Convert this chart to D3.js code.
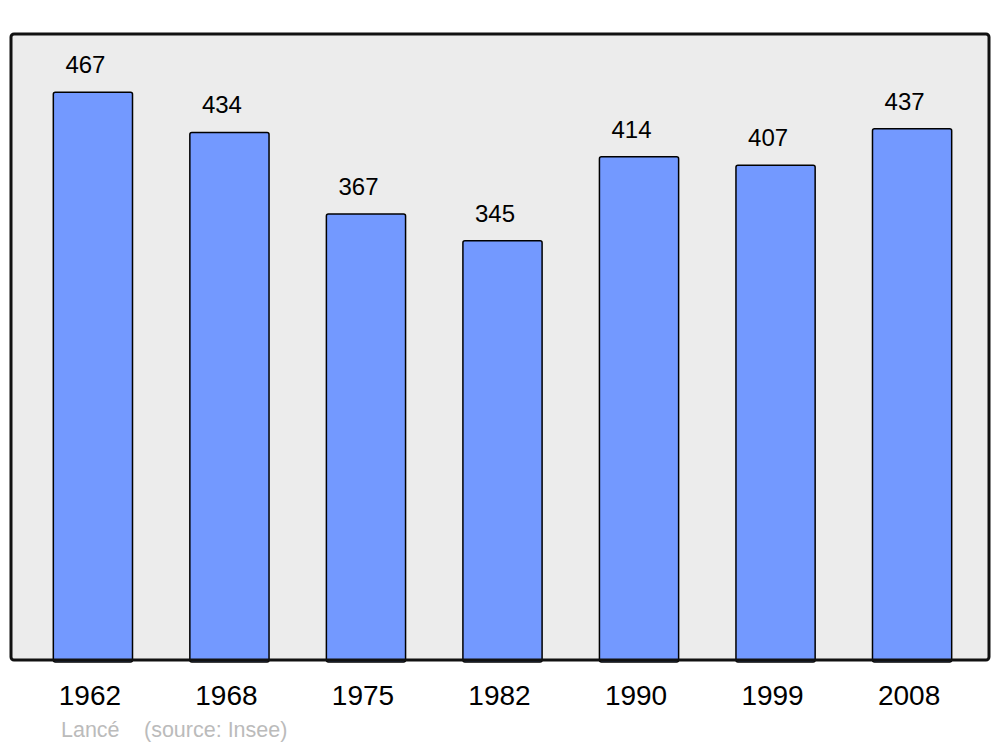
<!DOCTYPE html>
<html>
<head>
<meta charset="utf-8">
<script src="https://cdn.jsdelivr.net/npm/d3@7"></script>
<style>
  body { margin: 0; background: #fff; }
  svg { display: block; font-family: "Liberation Sans", Arial, sans-serif; }
</style>
</head>
<body>
<svg id="chart" width="1000" height="747"></svg>
<script>
// population by census year
const years = ["1962", "1968", "1975", "1982", "1990", "1999", "2008"];
const population = [467, 434, 367, 345, 414, 407, 437];
const commune = "Lancé";
const source = "(source: Insee)";

const svg = d3.select("#chart");

// plot frame
const frameLeft = 11, frameRight = 989, frameTop = 34, frameBottom = 660;

const x = d3.scaleBand()
    .domain(years)
    .range([frameLeft, frameRight + 5])
    .paddingInner(0.42)
    .paddingOuter(0.31);

const y = d3.scaleLinear()
    .domain([0, 515])
    .range([frameBottom, frameTop]);

// grey panel
svg.append("rect")
    .attr("x", frameLeft)
    .attr("y", frameTop)
    .attr("width", frameRight - frameLeft)
    .attr("height", frameBottom - frameTop)
    .attr("rx", 3)
    .attr("fill", "#ececec")
    .attr("stroke", "none");

let data = years.map((yr, i) => ({ year: yr, value: population[i] }));

svg.selectAll(".bar")
    .data(data)
    .enter()
    .append("rect")
    .attr("class", "bar")
    .attr("x", d => x(d.year))
    .attr("y", d => y(d.value))
    .attr("width", x.bandwidth())
    .attr("height", d => y(0) - y(d.value) + 2)
    .attr("rx", 2)
    .attr("fill", "#7399ff")
    .attr("stroke", "#000")
    .attr("stroke-width", 1.5);

// panel border drawn over the bar bottoms
svg.append("rect")
    .attr("x", frameLeft)
    .attr("y", frameTop)
    .attr("width", frameRight - frameLeft)
    .attr("height", frameBottom - frameTop)
    .attr("rx", 3)
    .attr("fill", "none")
    .attr("stroke", "#111")
    .attr("stroke-width", 3);

// value labels above bars
svg.selectAll(".val")
    .data(data)
    .enter()
    .append("text")
    .attr("class", "val")
    .attr("x", d => x(d.year) + x.bandwidth() / 2 - 7.5)
    .attr("y", d => y(d.value) - 19)
    .attr("text-anchor", "middle")
    .attr("font-size", "24px")
    .attr("fill", "#000")
    .text(d => d.value);

// year axis labels
svg.selectAll(".year")
    .data(years)
    .enter()
    .append("text")
    .attr("class", "year")
    .attr("x", d => x(d) + x.bandwidth() / 2 - 3)
    .attr("y", 705)
    .attr("text-anchor", "middle")
    .attr("font-size", "28px")
    .attr("fill", "#000")
    .text(d => d);

// footer
svg.append("text")
    .attr("x", 61)
    .attr("y", 737)
    .attr("font-size", "21.5px")
    .attr("fill", "#bbb")
    .text(commune);

svg.append("text")
    .attr("x", 144)
    .attr("y", 737)
    .attr("font-size", "21.5px")
    .attr("fill", "#bbb")
    .text(source);
</script>
</body>
</html>
